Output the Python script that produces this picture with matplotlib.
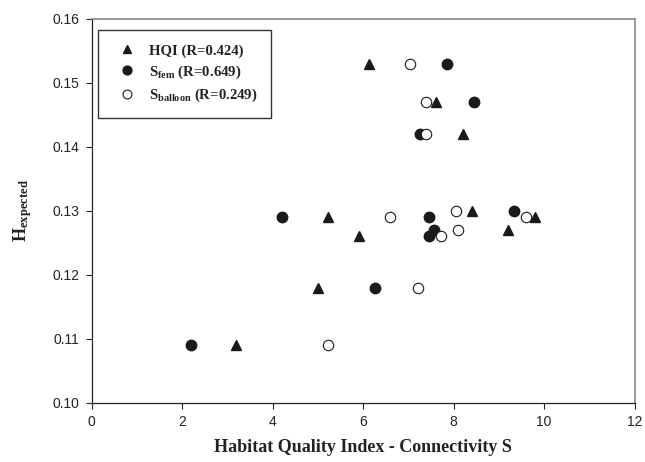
import matplotlib
matplotlib.use("Agg")
import matplotlib.pyplot as plt

plt.rcParams['mathtext.fontset'] = 'custom'
plt.rcParams['mathtext.rm'] = 'Liberation Serif:bold'
plt.rcParams['mathtext.bf'] = 'Liberation Serif:bold'
plt.rcParams['mathtext.it'] = 'Liberation Serif:bold'
plt.rcParams['mathtext.default'] = 'rm'

# Data
hqi_x = [3.2, 5.0, 5.23, 5.91, 6.13, 7.62, 8.21, 8.41, 9.2, 9.8]
hqi_y = [0.109, 0.118, 0.129, 0.126, 0.153, 0.147, 0.142, 0.130, 0.127, 0.129]

sfem_x = [2.2, 4.2, 6.26, 7.25, 7.46, 7.46, 7.57, 7.86, 8.45, 9.33]
sfem_y = [0.109, 0.129, 0.118, 0.142, 0.129, 0.126, 0.127, 0.153, 0.147, 0.130]

sball_x = [5.23, 6.59, 7.21, 7.71, 8.06, 8.10, 9.59, 7.03, 7.38, 7.38]
sball_y = [0.109, 0.129, 0.118, 0.126, 0.130, 0.127, 0.129, 0.153, 0.147, 0.142]

x_ticks = [0, 2, 4, 6, 8, 10, 12]
y_ticks = [0.10, 0.11, 0.12, 0.13, 0.14, 0.15, 0.16]

fig = plt.figure(figsize=(6.45, 4.62), dpi=100)
ax = fig.add_axes([0.142, 0.128, 0.842, 0.831])

ax.plot(hqi_x, hqi_y, linestyle='none', marker='^', ms=7.5, color='#1a1a1a',
        mec='#1a1a1a', label=r'HQI (R=0.424)')
ax.plot(sfem_x, sfem_y, linestyle='none', marker='o', ms=7.5, color='#1a1a1a',
        mec='#1a1a1a', label=r'S$_{\mathrm{fem}}$ (R=0.649)')
ax.plot(sball_x, sball_y, linestyle='none', marker='o', ms=7.5, mfc='white',
        mec='#1a1a1a', mew=0.8, label=r'S$_{\mathrm{balloon}}$ (R=0.249)')

ax.set_xlim(0, 12)
ax.set_ylim(0.10, 0.16)
ax.set_xticks(x_ticks)
ax.set_xticklabels([str(v) for v in x_ticks])
ax.set_yticks(y_ticks)
ax.set_yticklabels([f"{v:.2f}" for v in y_ticks])

for lab in ax.get_xticklabels() + ax.get_yticklabels():
    lab.set_fontfamily('Liberation Sans')
    lab.set_fontsize(10)
    lab.set_color('#222222')

ax.tick_params(axis='both', direction='out', length=4, width=0.8, color='#222222', pad=5)
ax.tick_params(top=False, right=False)

for s in ['top', 'right']:
    ax.spines[s].set_color('#888888')
    ax.spines[s].set_linewidth(1.2)
for s in ['left', 'bottom']:
    ax.spines[s].set_color('#222222')
    ax.spines[s].set_linewidth(0.9)

ax.set_xlabel('Habitat Quality Index - Connectivity S', fontfamily='Liberation Serif',
              fontweight='bold', fontsize=13, color='#222222', labelpad=7)
ax.set_ylabel(r'H$_{\mathrm{expected}}$', fontfamily='Liberation Serif',
              fontweight='bold', fontsize=13, color='#222222', labelpad=13)

leg = ax.legend(loc='upper left', bbox_to_anchor=(0.012, 0.971), frameon=True,
                fancybox=False, edgecolor='#333333', framealpha=1, borderaxespad=0,
                prop={'family': 'Liberation Serif', 'weight': 'bold', 'size': 10.6},
                handletextpad=0.5, borderpad=0.95, labelspacing=0.4, handlelength=2.0,
                markerscale=0.85)
leg.get_frame().set_linewidth(1.0)
for t in leg.get_texts():
    t.set_color('#222222')

fig.savefig('out.png', dpi=100)
